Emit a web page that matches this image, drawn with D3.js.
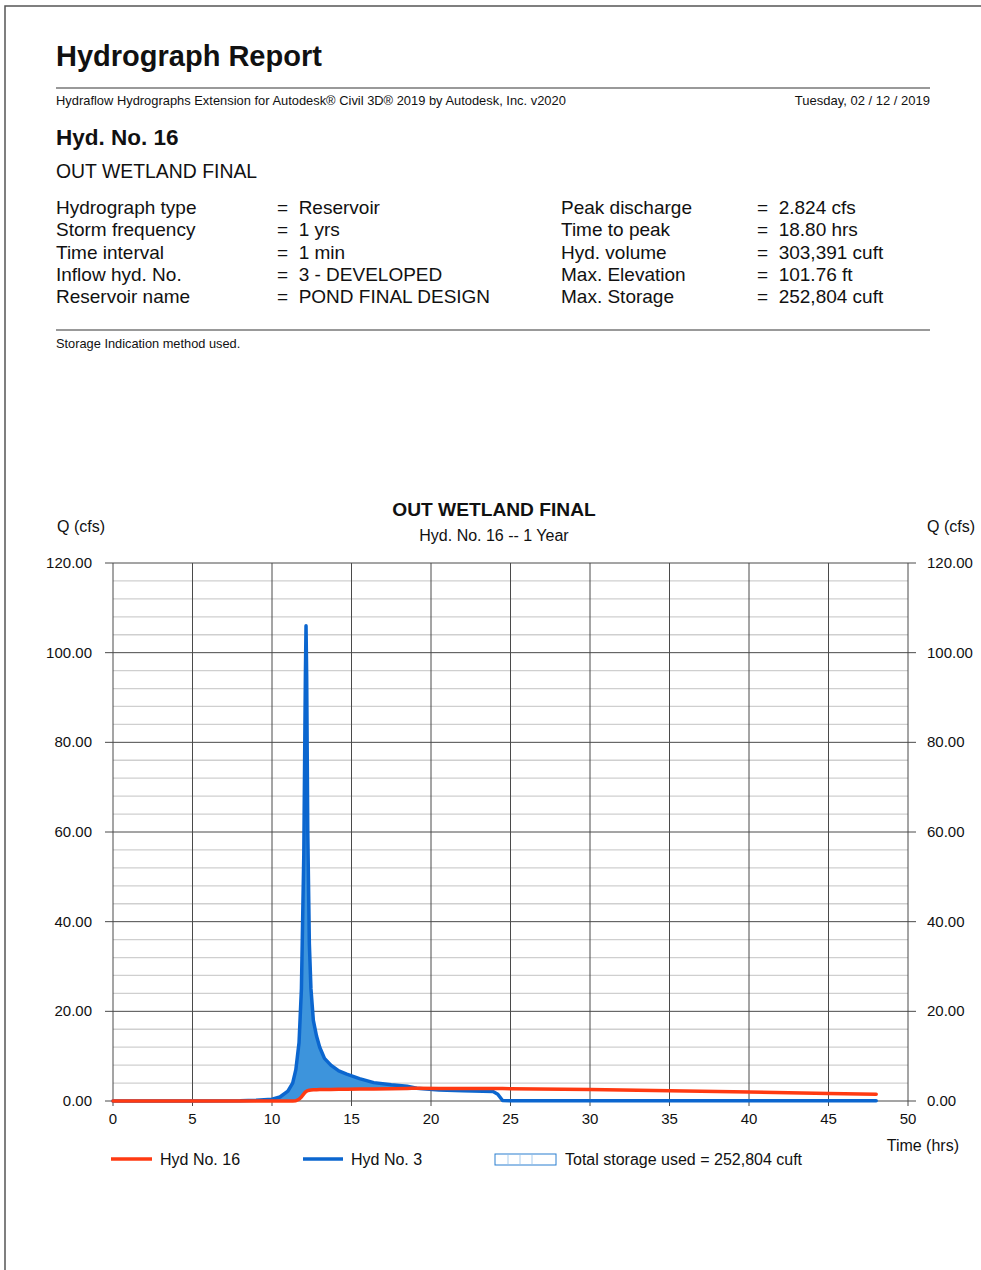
<!DOCTYPE html>
<html>
<head>
<meta charset="utf-8">
<script src="https://cdn.jsdelivr.net/npm/d3@7"></script>
<style>
  html, body { margin: 0; padding: 0; background: #fff; }
  svg { display: block; font-family: "Liberation Sans", Arial, sans-serif; }
</style>
</head>
<body>
<div id="chart"></div>
<script>
// Time axis (hrs) shared by both hydrographs
const hours = [0, 5, 8, 9, 10, 10.5, 11, 11.3, 11.5, 11.7, 11.85, 12.0, 12.1, 12.14, 12.18, 12.25, 12.35, 12.45, 12.6, 12.8, 13.0, 13.3, 13.7, 14.2, 14.7, 15.5, 16.4, 17.5, 18.5, 18.8, 19.1, 20.5, 22, 23.9, 24.2, 24.5, 25, 30, 35, 40, 45, 48];
// Hyd No. 3 (inflow, cfs)
const inflow = [0, 0, 0.05, 0.15, 0.4, 0.9, 2.2, 4, 7, 13, 25, 55, 95, 106, 95, 60, 35, 25, 18, 14.5, 12, 9.5, 8, 6.7, 6, 5, 4.1, 3.6, 3.3, 3.1, 2.85, 2.45, 2.3, 2.1, 1.5, 0.1, 0.05, 0.05, 0.05, 0.05, 0.05, 0.05];
// Hyd No. 16 (outflow, cfs)
const outflow = [0, 0, 0, 0, 0, 0, 0, 0, 0.05, 0.4, 0.9, 1.6, 2.0, 2.1, 2.2, 2.3, 2.4, 2.45, 2.5, 2.53, 2.55, 2.57, 2.59, 2.61, 2.63, 2.66, 2.7, 2.76, 2.81, 2.824, 2.82, 2.81, 2.8, 2.78, 2.78, 2.77, 2.75, 2.58, 2.3, 2.0, 1.7, 1.5];

const yTicks = [0, 20, 40, 60, 80, 100, 120];
const yMinor = d3.range(0, 121, 4);
const xTicks = [0, 5, 10, 15, 20, 25, 30, 35, 40, 45, 50];

const infoLeft = [
  ["Hydrograph type", "Reservoir"],
  ["Storm frequency", "1 yrs"],
  ["Time interval", "1 min"],
  ["Inflow hyd. No.", "3 - DEVELOPED"],
  ["Reservoir name", "POND FINAL DESIGN"]
];
const infoRight = [
  ["Peak discharge", "2.824 cfs"],
  ["Time to peak", "18.80 hrs"],
  ["Hyd. volume", "303,391 cuft"],
  ["Max. Elevation", "101.76 ft"],
  ["Max. Storage", "252,804 cuft"]
];

const RED = "#ff3a12";
const BLUE = "#0b66cf";
const FILL = "#3d94dc";

const W = 981, H = 1270;
const svg = d3.select("#chart").append("svg").attr("width", W).attr("height", H);

// page frame
svg.append("path").attr("d", `M5,${H} V6 H${W}`).attr("fill", "none").attr("stroke", "#555").attr("stroke-width", 1.5);

// ---- header ----
svg.append("text").attr("x", 56).attr("y", 66).attr("font-size", 29).attr("font-weight", "bold").attr("fill", "#111").text("Hydrograph Report");
svg.append("line").attr("x1", 56).attr("x2", 930).attr("y1", 88).attr("y2", 88).attr("stroke", "#777").attr("stroke-width", 1.5);
svg.append("text").attr("x", 56).attr("y", 105).attr("font-size", 12.9).attr("fill", "#111")
  .text("Hydraflow Hydrographs Extension for Autodesk\u00AE Civil 3D\u00AE 2019 by Autodesk, Inc. v2020");
svg.append("text").attr("x", 930).attr("y", 105).attr("font-size", 13).attr("text-anchor", "end").attr("fill", "#111")
  .text("Tuesday, 02 / 12 / 2019");

svg.append("text").attr("x", 56).attr("y", 145).attr("font-size", 22.5).attr("font-weight", "bold").attr("fill", "#111").text("Hyd. No. 16");
svg.append("text").attr("x", 56).attr("y", 178).attr("font-size", 19.4).attr("fill", "#111").text("OUT WETLAND FINAL");

const rowY = i => 214 + i * 22.3;
infoLeft.forEach((r, i) => {
  svg.append("text").attr("x", 56).attr("y", rowY(i)).attr("font-size", 19).attr("fill", "#111").text(r[0]);
  svg.append("text").attr("x", 277).attr("y", rowY(i)).attr("font-size", 19).attr("fill", "#111").text("=  " + r[1]).attr("xml:space", "preserve");
});
infoRight.forEach((r, i) => {
  svg.append("text").attr("x", 561).attr("y", rowY(i)).attr("font-size", 19).attr("fill", "#111").text(r[0]);
  svg.append("text").attr("x", 757).attr("y", rowY(i)).attr("font-size", 19).attr("fill", "#111").text("=  " + r[1]).attr("xml:space", "preserve");
});

svg.append("line").attr("x1", 56).attr("x2", 930).attr("y1", 330).attr("y2", 330).attr("stroke", "#777").attr("stroke-width", 1.5);
svg.append("text").attr("x", 56).attr("y", 348).attr("font-size", 12.8).attr("fill", "#111").text("Storage Indication method used.");

// ---- chart ----
const plotL = 113, plotR = 908, plotT = 563, plotB = 1101;
const x = d3.scaleLinear().domain([0, 50]).range([plotL, plotR]);
const y = d3.scaleLinear().domain([0, 120]).range([plotB, plotT]);

svg.append("text").attr("x", 494).attr("y", 516).attr("font-size", 19.2).attr("font-weight", "bold").attr("text-anchor", "middle").attr("fill", "#111").text("OUT WETLAND FINAL");
svg.append("text").attr("x", 494).attr("y", 541).attr("font-size", 16).attr("text-anchor", "middle").attr("fill", "#111").text("Hyd. No. 16 -- 1 Year");
svg.append("text").attr("x", 57).attr("y", 532).attr("font-size", 16).attr("fill", "#111").text("Q (cfs)");
svg.append("text").attr("x", 975).attr("y", 532).attr("font-size", 16).attr("text-anchor", "end").attr("fill", "#111").text("Q (cfs)");

// minor grid
svg.append("g").selectAll("line").data(yMinor.filter(v => v % 20 !== 0)).join("line")
  .attr("x1", plotL).attr("x2", plotR).attr("y1", d => y(d)).attr("y2", d => y(d))
  .attr("stroke", "#cfcfcf").attr("stroke-width", 1.3);

// major grid
svg.append("g").selectAll("line").data(yTicks).join("line")
  .attr("x1", plotL - 8).attr("x2", plotR + 8).attr("y1", d => y(d)).attr("y2", d => y(d))
  .attr("stroke", "#4a4a4a").attr("stroke-width", 1);
svg.append("g").selectAll("line").data(xTicks).join("line")
  .attr("x1", d => x(d)).attr("x2", d => x(d)).attr("y1", plotT).attr("y2", plotB + 5)
  .attr("stroke", "#4a4a4a").attr("stroke-width", 1);

// axis labels
svg.append("g").selectAll("text").data(yTicks).join("text")
  .attr("x", 92).attr("y", d => y(d) + 5).attr("text-anchor", "end").attr("font-size", 15).attr("fill", "#111")
  .text(d => d.toFixed(2));
svg.append("g").selectAll("text").data(yTicks).join("text")
  .attr("x", 927).attr("y", d => y(d) + 5).attr("font-size", 15).attr("fill", "#111")
  .text(d => d.toFixed(2));
svg.append("g").selectAll("text").data(xTicks).join("text")
  .attr("x", d => x(d)).attr("y", 1124).attr("text-anchor", "middle").attr("font-size", 15).attr("fill", "#111")
  .text(d => d);
svg.append("text").attr("x", 959).attr("y", 1151).attr("text-anchor", "end").attr("font-size", 16).attr("fill", "#111").text("Time (hrs)");

// storage fill between inflow and outflow
const pts = hours.map((h, i) => ({ h, qi: inflow[i], qo: outflow[i] }));
svg.append("path").datum(pts)
  .attr("d", d3.area().x(d => x(d.h)).y0(d => y(d.qo)).y1(d => y(Math.max(d.qi, d.qo))))
  .attr("fill", FILL);

svg.append("path").datum(pts)
  .attr("d", d3.line().x(d => x(d.h)).y(d => y(d.qi)))
  .attr("fill", "none").attr("stroke", BLUE).attr("stroke-width", 3.5).attr("stroke-linejoin", "round").attr("stroke-linecap", "round");
svg.append("path").datum(pts)
  .attr("d", d3.line().x(d => x(d.h)).y(d => y(d.qo)))
  .attr("fill", "none").attr("stroke", RED).attr("stroke-width", 3.5).attr("stroke-linejoin", "round").attr("stroke-linecap", "round");

// ---- legend ----
const ly = 1159;
svg.append("line").attr("x1", 111).attr("x2", 152).attr("y1", ly).attr("y2", ly).attr("stroke", RED).attr("stroke-width", 3.5);
svg.append("text").attr("x", 160).attr("y", ly + 6).attr("font-size", 16).attr("fill", "#111").text("Hyd No. 16");
svg.append("line").attr("x1", 303).attr("x2", 343).attr("y1", ly).attr("y2", ly).attr("stroke", BLUE).attr("stroke-width", 3.5);
svg.append("text").attr("x", 351).attr("y", ly + 6).attr("font-size", 16).attr("fill", "#111").text("Hyd No. 3");
const lg = svg.append("g");
lg.append("rect").attr("x", 495).attr("y", ly - 5).attr("width", 61).attr("height", 11).attr("fill", "#fff").attr("stroke", "#2a7fd0").attr("stroke-width", 1);
lg.selectAll("line.h").data([508, 520, 532]).join("line")
  .attr("x1", d => d).attr("x2", d => d).attr("y1", ly - 4).attr("y2", ly + 5)
  .attr("stroke", "#a9cdee").attr("stroke-width", 1);
svg.append("text").attr("x", 565).attr("y", ly + 6).attr("font-size", 16).attr("fill", "#111").text("Total storage used = 252,804 cuft");
</script>
</body>
</html>
